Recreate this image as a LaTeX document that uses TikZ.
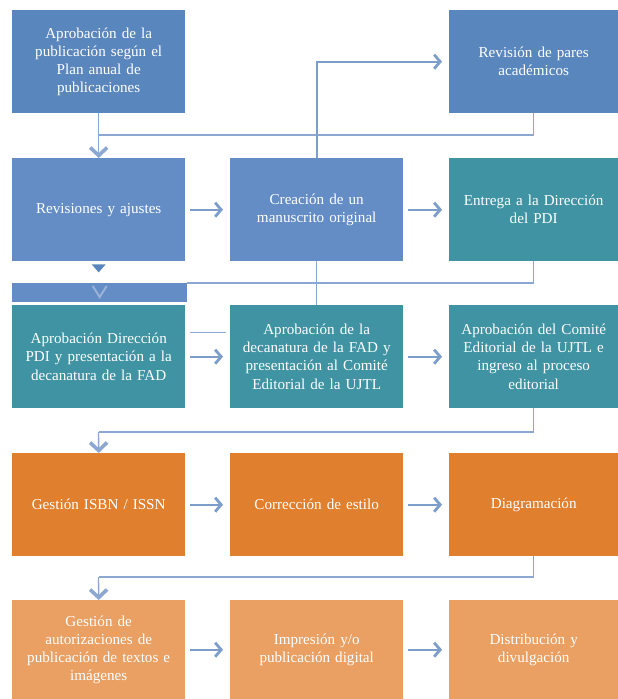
\documentclass[tikz,border=0pt]{standalone}
\usepackage{fontspec}
\setmainfont{Liberation Serif}
\usetikzlibrary{arrows.meta,calc}
\definecolor{blueA}{HTML}{5A86BE}
\definecolor{blueB}{HTML}{648DC5}
\definecolor{tealC}{HTML}{3F93A2}
\definecolor{orangeD}{HTML}{E0802F}
\definecolor{orangeE}{HTML}{EAA063}
\definecolor{lineC}{HTML}{8CA8D2}
\definecolor{arrowC}{HTML}{7D9DCB}
\definecolor{fadeC}{HTML}{98B2D9}
\begin{document}
\begin{tikzpicture}[x=1bp,y=-1bp,
  box/.style={anchor=north west, inner sep=2bp, minimum width=173bp, minimum height=103bp,
    text=white, align=center, text width=167bp, font=\fontsize{15.2}{18.2}\selectfont},
  rbox/.style={box, minimum width=169bp, text width=165bp},
  conn/.style={draw=lineC, line width=1.4bp},
  harrow/.style={draw=arrowC, line width=2bp, shorten <=5bp, shorten >=7bp,
    -{Straight Barb[length=6bp, width=14bp, line width=2.8bp]}},
  darrow/.style={draw=lineC, line width=1.4bp,
    -{Straight Barb[length=8bp, width=17bp, line width=3.6bp]}}]
\fill[white] (0,0) rectangle (618,699);
\useasboundingbox (0,0) rectangle (618,699);

% row 1
\node[box, fill=blueA] (a1) at (12,10) {Aprobación de la\\publicación según el\\Plan anual de\\publicaciones};
\node[rbox, fill=blueA] (a3) at (449,10) {Revisión de pares\\académicos};
% row 2
\node[box, fill=blueB] (b1) at (12,158) {Revisiones y ajustes};
\node[box, fill=blueB] (b2) at (230,158) {Creación de un\\manuscrito original};
\node[rbox, fill=tealC] (b3) at (449,158) {Entrega a la Dirección\\del PDI};
% bar
\node[anchor=north west, fill=blueB, minimum width=175bp, minimum height=19bp, inner sep=0pt] (bar) at (12,283) {};
% row 3
\node[box, fill=tealC] (c1) at (12,305) {Aprobación Dirección\\PDI y presentación a la\\decanatura de la FAD};
\node[box, fill=tealC] (c2) at (230,305) {Aprobación de la\\decanatura de la FAD y\\presentación al Comité\\Editorial de la UJTL};
\node[rbox, fill=tealC] (c3) at (449,305) {Aprobación del Comité\\Editorial de la UJTL e\\ingreso al proceso\\editorial};
% row 4
\node[box, fill=orangeD] (d1) at (12,453) {Gestión ISBN / ISSN};
\node[box, fill=orangeD] (d2) at (230,453) {Corrección de estilo};
\node[rbox, fill=orangeD] (d3) at (449,453) {Diagramación};
% row 5
\node[box, fill=orangeE, minimum height=99bp] (e1) at (12,600) {Gestión de\\autorizaciones de\\publicación de textos e\\imágenes};
\node[box, fill=orangeE, minimum height=99bp] (e2) at (230,600) {Impresión y/o\\publicación digital};
\node[rbox, fill=orangeE, minimum height=99bp] (e3) at (449,600) {Distribución y\\divulgación};

% junction coordinates
\coordinate (j1) at (98.5,135);
\coordinate (j3) at (98.5,432);
\coordinate (j4) at (98.5,577);

% row 1 connectors
\draw[conn] (a3.south) |- (j1);
\draw[darrow] (a1.south) -- (b1.north);
\draw[harrow, shorten <=0bp] (b2.north) |- (a3.west);

% row 2 connectors
\draw[harrow] (b1.east) -- (b2.west);
\draw[harrow] (b2.east) -- (b3.west);
\fill[blueA] ($(b1.south)+(-7,3)$) -- ($(b1.south)+(7,3)$) -- ($(b1.south)+(0,11)$) -- cycle;
\draw[fadeC, line width=2bp] ($(bar.north)+(-7,3)$) -- ($(bar.north)+(0,14)$) -- ($(bar.north)+(7,3)$);
\draw[conn] (b3.south) |- (bar.north east);
\draw[conn] (b2.south) -- (c2.north);

% row 3 connectors
\draw[conn] ($(c1.east)+(5,-24)$) -- ($(c2.west)+(-4,-24)$);
\draw[harrow] (c1.east) -- (c2.west);
\draw[harrow] (c2.east) -- (c3.west);
\draw[conn] (c3.south) |- (j3);
\draw[darrow] (j3) -- (d1.north);

% row 4 connectors
\draw[harrow] (d1.east) -- (d2.west);
\draw[harrow] (d2.east) -- (d3.west);
\draw[conn] (d3.south) |- (j4);
\draw[darrow] (j4) -- (e1.north);

% row 5 connectors
\draw[harrow] (e1.east) -- (e2.west);
\draw[harrow] (e2.east) -- (e3.west);
\end{tikzpicture}
\end{document}
